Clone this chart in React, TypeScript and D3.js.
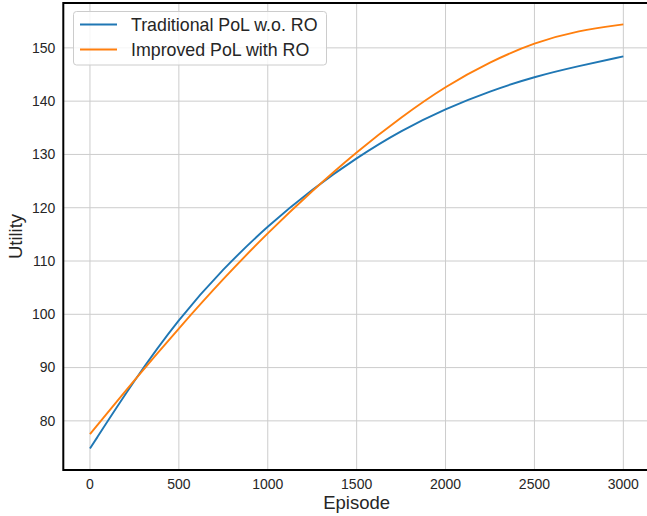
import * as d3 from "d3";
import { useEffect, useRef } from "react";

// episodes
const episodes = [0, 250, 500, 750, 1000, 1250, 1500, 1750, 2000, 2250, 2500, 2750, 3000];
const traditional = [74.8, 87.7, 99.2, 108.6, 116.6, 123.5, 129.4, 134.5, 138.6, 141.9, 144.6, 146.6, 148.4];
const improved = [77.5, 87.7, 97.4, 106.7, 115.3, 123.2, 130.5, 137.0, 142.8, 147.4, 151.0, 153.3, 154.4];
const seriesNames = ["Traditional PoL w.o. RO", "Improved PoL with RO"];
const seriesColors = ["#1f77b4", "#ff7f0e"];
const xTicks = [0, 500, 1000, 1500, 2000, 2500, 3000];
const yTicks = [80, 90, 100, 110, 120, 130, 140, 150];

const W = 647;
const H = 516;
const FONT = "'Liberation Sans', Arial, sans-serif";

const App = () => {
  const ref = useRef<SVGSVGElement>(null);

  useEffect(() => {
    const svg = d3.select(ref.current);
    svg.selectAll("*").remove();

    const margin = { top: 3, right: -3, bottom: 46, left: 63.3 };
    const x = d3.scaleLinear().domain([-150, 3150]).range([margin.left, W - margin.right]);
    const y = d3.scaleLinear().domain([70.78, 158.42]).range([H - margin.bottom, margin.top]);

    // сетка
    const grid = svg.append("g");
    grid.selectAll(".gx").data(xTicks).enter().append("line")
      .attr("x1", d => x(d)).attr("x2", d => x(d))
      .attr("y1", y.range()[0]).attr("y2", y.range()[1])
      .attr("stroke", "#cccccc").attr("stroke-width", 1);
    grid.selectAll(".gy").data(yTicks).enter().append("line")
      .attr("x1", x.range()[0]).attr("x2", x.range()[1])
      .attr("y1", d => y(d)).attr("y2", d => y(d))
      .attr("stroke", "#cccccc").attr("stroke-width", 1);

    // линии
    const data = [traditional, improved];
    const line = d3.line<number>()
      .x((_, i) => x(episodes[i]))
      .y(d => y(d))
      .curve(d3.curveBasis);
    data.forEach((vals, k) => {
      svg.append("path")
        .datum(vals)
        .attr("d", line)
        .attr("fill", "none")
        .attr("stroke", seriesColors[k])
        .attr("stroke-width", 1.9);
    });

    // рамка
    const [x0, x1] = x.range();
    const [yb, yt] = y.range();
    svg.append("rect")
      .attr("x", x0).attr("y", yt)
      .attr("width", x1 - x0).attr("height", yb - yt)
      .attr("fill", "none").attr("stroke", "#000").attr("stroke-width", 2);

    // подписи осей
    svg.append("g").selectAll("text").data(xTicks).enter().append("text")
      .attr("x", d => x(d)).attr("y", yb + 19)
      .attr("text-anchor", "middle")
      .attr("font-family", FONT).attr("font-size", 14).attr("fill", "#262626")
      .text(d => d);
    svg.append("g").selectAll("text").data(yTicks).enter().append("text")
      .attr("x", x0 - 8).attr("y", d => y(d)).attr("dy", "0.35em")
      .attr("text-anchor", "end")
      .attr("font-family", FONT).attr("font-size", 14).attr("fill", "#262626")
      .text(d => d);

    svg.append("text")
      .attr("x", (x0 + x1) / 2).attr("y", yb + 39)
      .attr("text-anchor", "middle")
      .attr("font-family", FONT).attr("font-size", 18.5).attr("fill", "#262626")
      .text("Episode");
    svg.append("text")
      .attr("transform", `translate(22, ${(yb + yt) / 2}) rotate(-90)`)
      .attr("text-anchor", "middle")
      .attr("font-family", FONT).attr("font-size", 18.5).attr("fill", "#262626")
      .text("Utility");

    // легенда
    const lg = svg.append("g");
    lg.append("rect")
      .attr("x", 73.5).attr("y", 11.5).attr("width", 253).attr("height", 53.5)
      .attr("rx", 3).attr("fill", "#fff").attr("fill-opacity", 0.8)
      .attr("stroke", "#cccccc").attr("stroke-width", 1);
    seriesNames.forEach((name, k) => {
      const cy = 24.5 + k * 25;
      lg.append("line")
        .attr("x1", 80).attr("x2", 117).attr("y1", cy).attr("y2", cy)
        .attr("stroke", seriesColors[k]).attr("stroke-width", 1.9);
      lg.append("text")
        .attr("x", 131).attr("y", cy).attr("dy", "0.35em")
        .attr("font-family", FONT).attr("font-size", 17.8).attr("fill", "#262626")
        .text(name);
    });
  }, []);

  return (
    <svg
      ref={ref}
      width={W}
      height={H}
      style={{ position: "absolute", left: 0, top: 0, background: "#fff" }}
    ></svg>
  );
};

export default App;
